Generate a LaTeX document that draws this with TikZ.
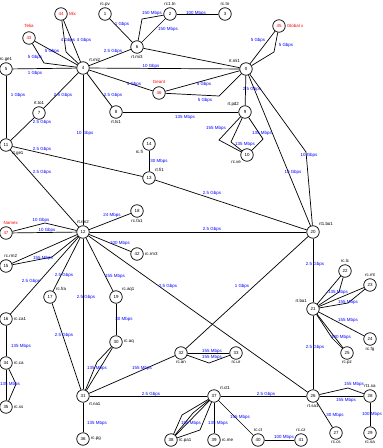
\documentclass[tikz,border=0pt]{standalone}
\usepackage{fontspec}
\setmainfont{Liberation Sans}
\usepackage{xcolor}
\tikzset{
  rtr/.style={circle, draw=black, line width=0.6pt, fill=white, minimum size=0.375cm, inner sep=0pt, font=\fontsize{3.8}{4.5}\selectfont},
  extrtr/.style={rtr, text=red},
  nlab/.style={font=\fontsize{3.8}{4.5}\selectfont, inner sep=1pt, text=black},
  xlab/.style={nlab, text=red},
  elab/.style={font=\fontsize{3.8}{4.5}\selectfont, inner sep=0pt, text=blue},
  link/.style={draw=black, line width=0.6pt}
}

\begin{document}
\begin{tikzpicture}[x=0.03cm, y=-0.03cm]
  \useasboundingbox (0,0) rectangle (382,448);
  % north
  \node[rtr, label={[nlab]above:rc.pv}] (n1) at (105,14) {1};
  \node[rtr, label={[nlab]above:rc1.tn}] (n2) at (170,14) {2};
  \node[rtr, label={[nlab]above:rc.tn}] (n3) at (225,14) {3};
  \node[extrtr, label={[xlab]right:Mix}] (n44) at (61,14) {44};
  \node[extrtr, label={[xlab, yshift=2pt]above:Telia}] (n43) at (29,38) {43};
  \node[rtr, label={[nlab]above:rc.ge1}] (n5) at (6,69) {5};
  \node[rtr, label={[nlab]above right:rt.mi2}] (n4) at (83,68) {4};
  \node[rtr, label={[nlab]below:rt.mi3}] (n6) at (137,47) {6};
  \node[rtr, label={[nlab]above left:rt.mi1}] (n0) at (246,69) {0};
  \node[extrtr, label={[xlab]right:Global x}] (n45) at (279,26) {45};
  \node[extrtr, label={[xlab, yshift=1pt]above:Geant}] (n46) at (159,93) {46};
  \node[rtr, label={[nlab]above left:rt.pd2}] (n9) at (245,112) {9};
  \node[rtr, label={[nlab]above:rt.to1}] (n7) at (39,113) {7};
  \node[rtr, label={[nlab]below:rt.ts1}] (n8) at (116,112) {8};
  \node[rtr, label={[nlab]below right:rt.ge1}] (n11) at (6,145) {11};
  \node[rtr, label={[nlab]below left:rc.ve}] (n10) at (247,155) {10};
  \node[rtr, label={[nlab]below left:rc.fi}] (n14) at (149,144) {14};
  \node[rtr, label={[nlab]above right:rt.fi1}] (n13) at (149,178) {13};
  % centre
  \node[rtr, label={[nlab]below:rc.fa1}] (n18) at (137,211) {18};
  \node[rtr, label={[nlab]above:rt.rm2}] (n12) at (83,232) {12};
  \node[extrtr, label={[xlab, xshift=4pt]above:Namex}] (n47) at (6,233) {47};
  \node[rtr, label={[nlab, xshift=4pt]above:rc.rm2}] (n15) at (6,266) {15};
  \node[rtr, label={[nlab]right:rc.rm3}] (n42) at (137,254) {42};
  \node[rtr, label={[nlab]above right:rt1.bo1}] (n20) at (313,232) {20};
  \node[rtr, label={[nlab]right:rc.ca1}] (n16) at (6,319) {16};
  \node[rtr, label={[nlab]above right:rc.fra}] (n17) at (50,297) {17};
  \node[rtr, label={[nlab]above right:rc.aq1}] (n19) at (116,297) {19};
  \node[rtr, label={[nlab]right:rc.aq}] (n30) at (116,342) {30};
  \node[rtr, label={[nlab]right:rc.ca}] (n34) at (6,363) {34};
  \node[rtr, label={[nlab]right:rc.ss}] (n35) at (6,407) {35};
  \node[rtr, label={[nlab]below right:rt.na1}] (n31) at (83,396) {31};
  \node[rtr, label={[nlab]right:rc.pg}] (n36) at (83,439) {36};
  \node[rtr, label={[nlab]below:rc.an}] (n32) at (181,353) {32};
  \node[rtr, label={[nlab]below:rc.ur}] (n33) at (236,353) {33};
  % south
  \node[rtr, label={[nlab]above right:rt.ct1}] (n37) at (214,396) {37};
  \node[rtr, label={[nlab]right:rc.pa1}] (n38) at (171,440) {38};
  \node[rtr, label={[nlab]right:rc.me}] (n39) at (214,440) {39};
  \node[rtr, label={[nlab]above:rc.ct}] (n40) at (258,440) {40};
  \node[rtr, label={[nlab]above:rc.cz}] (n41) at (301,440) {41};
  \node[rtr, label={[nlab]above left:rt.ba1}] (n21) at (313,309) {21};
  \node[rtr, label={[nlab]above:rc.lc}] (n22) at (345,271) {22};
  \node[rtr, label={[nlab]above:rc.mt}] (n23) at (370,285) {23};
  \node[rtr, label={[nlab]below:rc.fg}] (n24) at (370,339) {24};
  \node[rtr, label={[nlab]below:rc.pz}] (n25) at (347,353) {25};
  \node[rtr, label={[nlab]below:rt.sa1}] (n26) at (313,396) {26};
  \node[rtr, label={[nlab]below:rc.cs}] (n27) at (336,433) {27};
  \node[rtr, label={[nlab]above:rt1.sa}] (n28) at (370,396) {28};
  \node[rtr, label={[nlab]below:rc.sa}] (n29) at (370,433) {29};

  % links north
  \draw[link] (n44) -- (n4) node[elab] at (84,40) {4 Gbps};
  \draw[link] (n44) -- (66,52) -- (n4) node[elab] at (68,40) {4 Gbps};
  \draw[link] (n43) -- (n4) node[elab] at (52,51) {5 Gbps};
  \draw[link] (n43) -- (44,63) -- (n4) node[elab] at (35,57) {5 Gbps};
  \draw[link] (n5) -- (n4) node[elab] at (35,73) {1 Gbps};
  \draw[link] (n5) -- (n11) node[elab] at (18,95) {1 Gbps};
  \draw[link] (n4) -- (n7) node[elab] at (63,95) {2.5 Gbps};
  \draw[link] (n7) -- (n11) node[elab] at (42,122) {2.5 Gbps};
  \draw[link] (n4) -- (n8) node[elab] at (113,95) {2.5 Gbps};
  \draw[link] (n4) -- (n12) node[elab] at (85,133) {10 Gbps};
  \draw[link] (n1) -- (n6) node[elab] at (122,24) {1 Gbps};
  \draw[link] (n6) -- (n4) node[elab] at (113,51) {2.5 Gbps};
  \draw[link] (n6) -- (n2) node[elab] at (168,29) {150 Mbps};
  \draw[link] (n6) -- (142,19) -- (n2) node[elab] at (152,13) {150 Mbps};
  \draw[link] (n2) -- (n3) node[elab] at (196,13) {100 Mbps};
  \draw[link] (n6) -- (n0);
  \draw[link] (n4) -- (n0) node[elab] at (151,66) {10 Gbps};
  \draw[link] (n4) -- (n46) node[elab] at (134,84) {4 Gbps};
  \draw[link] (n46) -- (n0) node[elab] at (204,84) {5 Gbps};
  \draw[link] (n46) -- (219,96) -- (n0) node[elab] at (205,100) {5 Gbps};
  \draw[link] (n0) -- (n45) node[elab] at (258,40) {5 Gbps};
  \draw[link] (n0) -- (274,52) -- (n45) node[elab] at (286,45) {5 Gbps};
  \draw[link] (n0) -- (n9) node[elab] at (252,89) {2.5 Gbps};
  \draw[link] (n0) -- (n20) node[elab] at (293,172) {10 Gbps};
  \draw[link] (n0) -- (306,152) -- (n20) node[elab] at (309,155) {10 Gbps};
  \draw[link] (n8) -- (n9) node[elab] at (185,117) {135 Mbps};
  \draw[link] (n9) -- (219,140) -- (n10) node[elab] at (216,128) {155 Mbps};
  \draw[link] (n9) -- (231,142) -- (n10) node[elab] at (245,144) {135 Mbps};
  \draw[link] (n9) -- (263,139) -- (n10) node[elab] at (262,133) {135 Mbps};
  \draw[link] (n11) -- (n13) node[elab] at (42,149) {2.5 Gbps};
  \draw[link] (n11) -- (n12) node[elab] at (42,172) {2.5 Gbps};
  \draw[link] (n14) -- (n13) node[elab] at (159,161) {30 Mbps};
  \draw[link] (n13) -- (n20) node[elab] at (212,193) {2.5 Gbps};

  % links centre
  \draw[link] (n12) -- (n20) node[elab] at (212,229) {2.5 Gbps};
  \draw[link] (n12) -- (n18) node[elab] at (112,215) {24 Mbps};
  \draw[link] (n12) -- (n47) node[elab] at (47,230) {10 Gbps};
  \draw[link] (n12) -- (45,223) -- (n47) node[elab] at (41,220) {10 Gbps};
  \draw[link] (n12) -- (n15);
  \draw[link] (n12) -- (52,257) -- (n15) node[elab] at (43,258) {155 Mbps};
  \draw[link] (n12) -- (n42) node[elab] at (120,243) {100 Mbps};
  \draw[link] (n12) -- (n16) node[elab] at (31,281) {2.5 Gbps};
  \draw[link] (n12) -- (n17) node[elab] at (64,275) {2.5 Gbps};
  \draw[link] (n12) -- (n19) node[elab] at (115,276) {155 Mbps};
  \draw[link] (n12) -- (n26) node[elab] at (168,286) {2.5 Gbps};
  \draw[link] (n12) -- (n31) node[elab] at (86,297) {2.5 Gbps};
  \draw[link] (n20) -- (n32) node[elab] at (242,286) {1 Gbps};
  \draw[link] (n20) -- (n21) node[elab] at (315,264) {2.5 Gbps};
  \draw[link] (n21) -- (n26) node[elab] at (315,347) {2.5 Gbps};
  \draw[link] (n21) -- (n22);
  \draw[link] (n21) -- (339,292) -- (n22) node[elab] at (338,292) {135 Mbps};
  \draw[link] (n21) -- (n23);
  \draw[link] (n21) -- (348,303) -- (n23) node[elab] at (348,302) {155 Mbps};
  \draw[link] (n21) -- (n24) node[elab] at (348,320) {155 Mbps};
  \draw[link] (n21) -- (n25);
  \draw[link] (n21) -- (332,338) -- (n25) node[elab] at (341,337) {100 Mbps};
  \draw[link] (n17) -- (n31) node[elab] at (64,335) {2.5 Gbps};
  \draw[link] (n19) -- (n30) node[elab] at (124,319) {30 Mbps};
  \draw[link] (n16) -- (n34) node[elab] at (21,346) {135 Mbps};
  \draw[link] (n34) -- (n35);
  \draw[link] (n34) -- (16,384) -- (n35) node[elab] at (10,384) {135 Mbps};

  % links south
  \draw[link] (n32) -- (n33) node[elab] at (212,351) {155 Mbps};
  \draw[link] (n32) -- (209,363) -- (n33) node[elab] at (212,357) {155 Mbps};
  \draw[link] (n32) -- (n31) node[elab] at (142,368) {155 Mbps};
  \draw[link] (n30) -- (n31);
  \draw[link] (n30) -- (97,362) -- (n31) node[elab] at (97,368) {135 Mbps};
  \draw[link] (n31) -- (n37) node[elab] at (151,394) {2.5 Gbps};
  \draw[link] (n37) -- (n26) node[elab] at (266,394) {2.5 Gbps};
  \draw[link] (n31) -- (n36) node[elab] at (97,423) {135 Mbps};
  \draw[link] (n37) -- (n38);
  \draw[link] (n37) -- (182,415) -- (n38);
  \draw[link] (n37) -- (193,413) -- (n38);
  \draw[link] (n37) -- (200,430) -- (n38) node[elab] at (191,423) {155 Mbps};
  \draw[link] (n37) -- (n39) node[elab] at (218,423) {135 Mbps};
  \draw[link] (n37) -- (n40) node[elab] at (240,417) {155 Mbps};
  \draw[link] (n40) -- (n41) node[elab] at (284,437) {100 Mbps};
  \draw[link] (n26) -- (n28) node[elab] at (346,400) {155 Mbps};
  \draw[link] (n26) -- (348,388) -- (n28) node[elab] at (354,384) {155 Mbps};
  \draw[link] (n26) -- (n27) node[elab] at (335,415) {30 Mbps};
  \draw[link] (n28) -- (n29) node[elab] at (372,414) {100 Mbps};
\end{tikzpicture}
\end{document}
